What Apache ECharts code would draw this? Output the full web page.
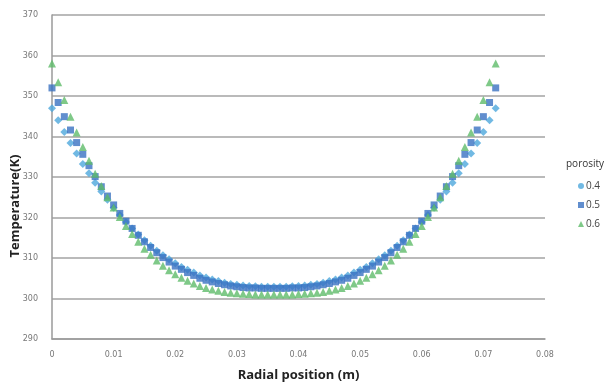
<!DOCTYPE html>
<html><head><meta charset="utf-8">
<script src="https://cdn.jsdelivr.net/npm/echarts@6/dist/echarts.min.js"></script>
<style>html,body{margin:0;padding:0;background:#fff}#c{width:605px;height:383px}</style>
</head><body><div id="c"></div>
<script>
var radial = [0,0.001,0.002,0.003,0.004,0.005,0.006,0.007,0.008,0.009,0.010,0.011,0.012,0.013,0.014,0.015,0.016,0.017,0.018,0.019,0.020,0.021,0.022,0.023,0.024,0.025,0.026,0.027,0.028,0.029,0.030,0.031,0.032,0.033,0.034,0.035,0.036,0.037,0.038,0.039,0.040,0.041,0.042,0.043,0.044,0.045,0.046,0.047,0.048,0.049,0.050,0.051,0.052,0.053,0.054,0.055,0.056,0.057,0.058,0.059,0.060,0.061,0.062,0.063,0.064,0.065,0.066,0.067,0.068,0.069,0.070,0.071,0.072];
var temp04 = [347.0,344.0,341.1,338.4,335.8,333.2,330.9,328.6,326.4,324.4,322.4,320.6,318.9,317.3,315.8,314.4,313.0,311.8,310.7,309.7,308.7,307.8,307.1,306.4,305.7,305.2,304.7,304.3,303.9,303.6,303.4,303.2,303.1,303.0,302.9,302.9,302.9,
302.9,302.9,303.0,303.1,303.2,303.4,303.6,303.9,304.3,304.7,305.2,305.7,306.4,307.1,307.8,308.7,309.7,310.7,311.8,313.0,314.4,315.8,317.3,318.9,320.6,322.4,324.4,326.4,328.6,330.9,333.2,335.8,338.4,341.1,344.0,347.0];
var temp05 = [352.0,348.4,344.9,341.6,338.5,335.6,332.8,330.1,327.6,325.3,323.1,321.0,319.1,317.3,315.6,314.0,312.6,311.3,310.1,309.0,308.0,307.2,306.4,305.7,305.0,304.5,304.1,303.7,303.4,303.1,302.9,302.7,302.6,302.6,302.5,302.5,302.5,
302.5,302.5,302.6,302.6,302.7,302.9,303.1,303.4,303.7,304.1,304.5,305.0,305.7,306.4,307.2,308.0,309.0,310.1,311.3,312.6,314.0,315.6,317.3,319.1,321.0,323.1,325.3,327.6,330.1,332.8,335.6,338.5,341.6,344.9,348.4,352.0];
var temp06 = [358.0,353.4,349.0,344.9,341.0,337.4,334.0,330.8,327.8,325.0,322.5,320.1,317.9,315.9,314.0,312.3,310.8,309.4,308.1,307.0,306.0,305.1,304.4,303.7,303.1,302.6,302.2,301.9,301.6,301.4,301.3,301.2,301.1,301.0,301.0,301.0,301.0,
301.0,301.0,301.0,301.1,301.2,301.3,301.4,301.6,301.9,302.2,302.6,303.1,303.7,304.4,305.1,306.0,307.0,308.1,309.4,310.8,312.3,314.0,315.9,317.9,320.1,322.5,325.0,327.8,330.8,334.0,337.4,341.0,344.9,349.0,353.4,358.0];
var seriesNames = ['0.4','0.5','0.6'];
var yTitle = 'Temperature(K)';

function pairs(ys){ return radial.map(function(x,i){ return [x, ys[i]]; }); }

var chart = echarts.init(document.getElementById('c'), null, {renderer:'canvas'});
chart.setOption({
  animation:false,
  backgroundColor:'#fff',
  grid:{left:52,right:60,top:15,bottom:44,containLabel:false,outerBoundsMode:'none'},
  title:{text:'porosity',left:561,top:154,textStyle:{fontSize:10,fontWeight:'normal',color:'#333',fontFamily:'Open Sans'}},
  graphic:[{type:'text',x:15,y:206,rotation:Math.PI/2,
    style:{text:yTitle,fontSize:13,fontWeight:'bold',fill:'#222',fontFamily:'Open Sans',align:'center',verticalAlign:'middle'}}],
  legend:{orient:'vertical',left:573,top:176,itemWidth:6,itemHeight:6,itemGap:9,
    textStyle:{fontSize:10,color:'#444',fontFamily:'Open Sans',padding:[3,0,0,-3]},
    data:[{name:'0.4',icon:'circle'},{name:'0.5',icon:'rect'},{name:'0.6',icon:'triangle'}]},
  xAxis:{type:'value',min:0,max:0.08,interval:0.01,
    name:'Radial position (m)',nameLocation:'middle',nameGap:30,
    nameTextStyle:{fontSize:13,fontWeight:'bold',color:'#222',fontFamily:'Open Sans'},
    axisLine:{show:true,lineStyle:{color:'#9a9a9a',width:1.5}},axisTick:{show:false},
    axisLabel:{fontSize:8,color:'#777',margin:12,fontFamily:'DejaVu Sans',formatter:function(v){return v===0?'0':v.toFixed(2);}},
    splitLine:{show:false}},
  yAxis:{type:'value',min:290,max:370,interval:10,
    axisLine:{show:true,lineStyle:{color:'#9a9a9a',width:1.5}},axisTick:{show:false},
    axisLabel:{fontSize:8,color:'#777',margin:14,fontFamily:'DejaVu Sans'},
    splitLine:{show:true,lineStyle:{color:'#a3a3a3',width:1.5}}},
  series:[
    {name:seriesNames[0],type:'scatter',symbol:'diamond',symbolSize:8,itemStyle:{color:'#4da8dc'},data:pairs(temp04)},
    {name:seriesNames[1],type:'scatter',symbol:'rect',symbolSize:7,itemStyle:{color:'#3a72c2'},data:pairs(temp05)},
    {name:seriesNames[2],type:'scatter',symbol:'triangle',symbolSize:8,itemStyle:{color:'#5fbb6a'},data:pairs(temp06)}
  ]
});
</script></body></html>
